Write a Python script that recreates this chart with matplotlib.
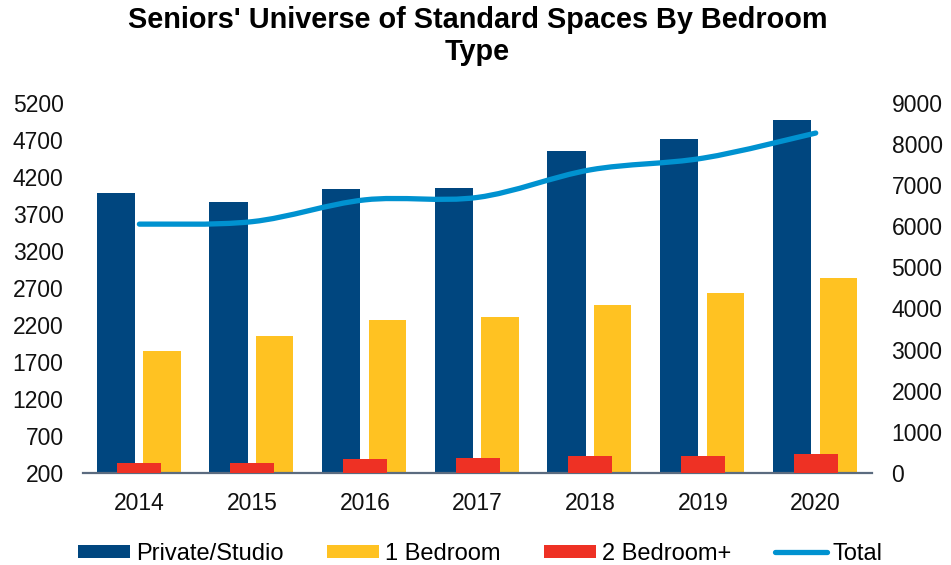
import numpy as np
import matplotlib.pyplot as plt
from matplotlib.path import Path
from matplotlib.patches import PathPatch
from matplotlib.lines import Line2D

plt.rcParams['font.family'] = ['Liberation Sans', 'DejaVu Sans']

years = ['2014', '2015', '2016', '2017', '2018', '2019', '2020']
private_studio = [3980, 3860, 4035, 4045, 4555, 4710, 4970]
one_bedroom = [1850, 2055, 2265, 2300, 2470, 2630, 2835]
two_bedroom = [340, 340, 390, 405, 425, 425, 460]
total = [6050, 6110, 6640, 6700, 7370, 7655, 8265]

c_private = '#00467F'
c_one = '#FFC222'
c_two = '#EE3124'
c_total = '#0092D0'


# Excel-style smoothed line: cubic Bezier segments through every point
def smooth_path(xs, ys):
    pts = np.column_stack([xs, ys]).astype(float)
    verts = [pts[0]]
    codes = [Path.MOVETO]
    n = len(pts)
    for i in range(n - 1):
        p0 = pts[i - 1] if i > 0 else pts[i]
        p1 = pts[i]
        p2 = pts[i + 1]
        p3 = pts[i + 2] if i + 2 < n else pts[i + 1]
        verts += [p1 + (p2 - p0) / 6, p2 - (p3 - p1) / 6, p2]
        codes += [Path.CURVE4] * 3
    return Path(verts, codes)


fig = plt.figure(figsize=(9.51, 5.65), dpi=100)
ax = fig.add_axes([0.0873, 0.163, 0.8297, 0.655])
ax2 = ax.twinx()

x = np.arange(len(years))
ax.bar(x - 0.21, private_studio, width=0.34, color=c_private, zorder=2,
       label='Private/Studio')
ax.bar(x + 0.2, one_bedroom, width=0.33, color=c_one, zorder=2,
       label='1 Bedroom')
ax.bar(x, two_bedroom, width=0.39, color=c_two, zorder=3,
       label='2 Bedroom+')

ax2.add_patch(PathPatch(smooth_path(x, total), facecolor='none',
                        edgecolor=c_total, lw=3.8, capstyle='round'))

ax.set_xlim(-0.5, 6.5)
ax.set_ylim(200, 5200)
ax.set_yticks(np.arange(200, 5201, 500))
ax2.set_ylim(0, 9000)
ax2.set_yticks(np.arange(0, 9001, 1000))
ax.set_xticks(x)
ax.set_xticklabels(years)

for a in (ax, ax2):
    for s in a.spines.values():
        s.set_visible(False)
ax.spines['bottom'].set_visible(True)
ax.spines['bottom'].set_color('#5B6B7F')
ax.spines['bottom'].set_linewidth(1.6)

ax.tick_params(axis='y', length=0, labelsize=16.5, pad=14, colors='#111111')
ax.tick_params(axis='x', length=0, labelsize=16.5, pad=14, colors='#111111')
ax2.tick_params(axis='y', length=0, labelsize=16.5, pad=14, colors='#111111')

fig.text(0.502, 0.99, "Seniors' Universe of Standard Spaces By Bedroom\nType",
         ha='center', va='top', fontsize=20.8, fontweight='bold',
         linespacing=1.2)

handles, labels = ax.get_legend_handles_labels()
handles.append(Line2D([], [], color=c_total, lw=3.8, solid_capstyle='round'))
labels.append('Total')
fig.legend(handles, labels, loc='lower center', bbox_to_anchor=(0.505, -0.037),
           ncol=4, frameon=False, fontsize=17, handlelength=2.2,
           handleheight=0.5, handletextpad=0.25, columnspacing=1.85)

fig.savefig('out.png', dpi=100)
